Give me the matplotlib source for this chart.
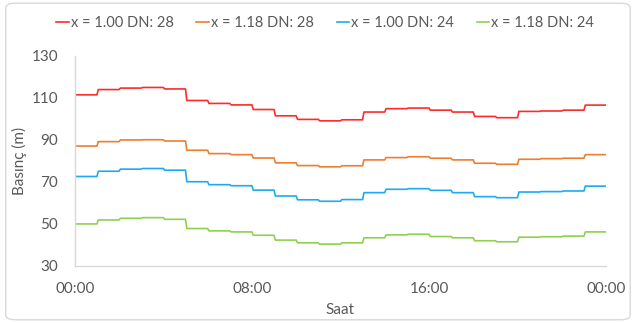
import numpy as np
import matplotlib.pyplot as plt
from matplotlib.patches import FancyBboxPatch

plt.rcParams['font.family'] = ['Lato', 'DejaVu Sans']

# hourly pressure values (m), hour 0..23
hours = np.arange(24)
red_vals = [111.3, 113.8, 114.5, 114.8, 114.1, 108.6, 107.2, 106.5, 104.3, 101.3, 99.6, 98.9,
            99.4, 103.1, 104.7, 105.0, 104.0, 103.1, 101.0, 100.4, 103.4, 103.6, 104.0, 106.4]
orange_vals = [86.9, 89.0, 89.8, 89.9, 89.3, 84.9, 83.3, 82.8, 81.2, 78.9, 77.6, 77.0,
               77.5, 80.3, 81.4, 81.8, 81.1, 80.3, 78.7, 78.2, 80.6, 80.9, 81.1, 82.8]
blue_vals = [72.4, 74.9, 75.9, 76.2, 75.4, 69.9, 68.5, 68.0, 65.9, 63.1, 61.3, 60.6,
             61.4, 64.7, 66.3, 66.6, 65.8, 64.7, 62.8, 62.3, 65.0, 65.2, 65.5, 67.8]
green_vals = [49.8, 51.7, 52.5, 52.8, 52.0, 47.6, 46.5, 46.0, 44.4, 42.1, 40.8, 40.2,
              40.8, 43.2, 44.6, 44.9, 43.8, 43.2, 41.8, 41.3, 43.5, 43.7, 44.0, 46.0]

series = [
    ("x = 1.00 DN: 28", red_vals, "#ff2a2a"),
    ("x = 1.18 DN: 28", orange_vals, "#ed7d31"),
    ("x = 1.00 DN: 24", blue_vals, "#1eaaf0"),
    ("x = 1.18 DN: 24", green_vals, "#8fd14f"),
]

xtick_pos = [0, 8, 16, 24]
xtick_labels = ["00:00", "08:00", "16:00", "00:00"]
yticks = [30, 50, 70, 90, 110, 130]

fig = plt.figure(figsize=(6.34, 3.23), dpi=100)
ax = fig.add_axes([0.118, 0.178, 0.838, 0.65])

# each hourly value is held for the hour, with a quick ramp to the next
for label, vals, color in series:
    xs, ys = [], []
    for h, v in zip(hours, vals):
        xs += [h + 0.06, h + 1.0]
        ys += [v, v]
    xs[0] = 0.0
    ax.plot(xs, ys, color=color, lw=1.2, label=label)

ax.set_xlim(0, 24)
ax.set_ylim(30, 130)
ax.set_xticks(xtick_pos)
ax.set_xticklabels(xtick_labels)
ax.set_yticks(yticks)
ax.tick_params(length=0, labelsize=11, colors="#595959")
ax.tick_params(axis='x', pad=12)
ax.tick_params(axis='y', pad=12)
for side in ["top", "right"]:
    ax.spines[side].set_visible(False)
for side in ["left", "bottom"]:
    ax.spines[side].set_color("#d9d9d9")
    ax.spines[side].set_linewidth(1.0)

ax.set_xlabel("Saat", fontsize=11, color="#595959", labelpad=5)
ax.set_ylabel("Basınç (m)", fontsize=11, color="#595959", labelpad=3)

fig.legend(loc="center", bbox_to_anchor=(0.513, 0.93), ncol=4, frameon=False,
           fontsize=10.5, handlelength=0.85, handletextpad=0.15, columnspacing=1.55,
           labelcolor="#595959")

border = FancyBboxPatch((0.009, 0.01), 0.985, 0.98, boxstyle="round,pad=0,rounding_size=0.015",
                        transform=fig.transFigure, fill=False, edgecolor="#d9d9d9", lw=1.0)
fig.patches.append(border)

fig.savefig("out.png", dpi=100)
